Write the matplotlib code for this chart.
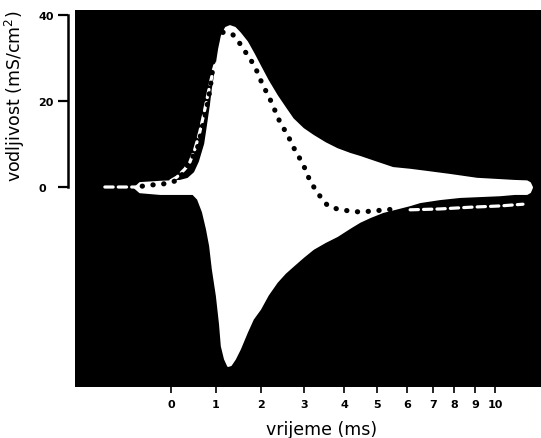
import numpy as np
import matplotlib
matplotlib.use("Agg")
import matplotlib.pyplot as plt

# ---- data (time in ms, conductance in mS/cm^2) ----
upper_t = [-0.80, -0.69, -0.24, 0.20, 0.38, 0.53, 0.64, 0.76, 0.82, 0.89, 0.93, 1.00, 1.07, 1.13,
           1.22, 1.31, 1.42, 1.53, 1.69, 1.84, 1.98, 2.16, 2.37, 2.56, 2.74, 2.98, 3.23, 3.53,
           3.83, 4.18, 4.48, 4.94, 5.53, 6.12, 6.77, 7.81, 9.10, 10.25, 11.00, 11.60, 11.75, 11.85]
upper_g = [-0.2, 0.9, 1.2, 1.4, 1.9, 3.3, 5.8, 10.0, 14.2, 19.3, 22.8, 27.4, 32.1, 35.1,
           37.0, 37.4, 37.0, 35.8, 33.7, 30.9, 28.1, 24.7, 21.2, 18.4, 15.8, 13.5, 11.9, 10.2,
           8.8, 7.7, 7.0, 5.8, 4.4, 4.0, 3.5, 2.8, 1.9, 1.6, 1.4, 1.3, 0.9, -0.1]

lower_t = [-0.80, -0.69, -0.24, 0.20, 0.49, 0.60, 0.71, 0.80, 0.87, 0.93, 1.02, 1.09, 1.13, 1.20,
           1.27, 1.33, 1.42, 1.53, 1.69, 1.82, 1.98, 2.16, 2.37, 2.56, 2.74, 2.98, 3.23, 3.53,
           3.83, 4.18, 4.48, 4.79, 5.20, 5.60, 6.12, 6.50, 7.33, 8.29, 9.25, 10.25, 11.00, 11.60,
           11.75, 11.85]
lower_g = [-0.2, -1.2, -1.6, -1.6, -1.6, -2.8, -5.8, -9.8, -13.7, -19.1, -25.3, -31.9, -37.0, -40.0,
           -41.6, -41.4, -40.0, -37.7, -33.7, -30.7, -28.4, -25.1, -22.1, -20.0, -18.4, -16.3, -14.4,
           -12.8, -11.4, -9.5, -8.1, -7.0, -5.8, -5.1, -4.2, -3.5, -2.8, -2.3, -2.1, -1.9, -1.6, -1.6,
           -1.2, -0.1]

dotted_t = [-0.64, -0.40, -0.18, 0.04, 0.20, 0.27, 0.36, 0.42, 0.58, 0.69, 0.78, 0.87, 0.93, 0.94,
            0.98, 1.04, 1.16, 1.36, 1.49, 1.64, 1.76, 1.89, 1.98, 2.09, 2.23, 2.44, 2.63, 2.74,
            2.91, 3.03, 3.15, 3.28, 3.45, 3.60, 3.83, 4.18, 4.48, 4.85, 5.27, 5.67]
dotted_g = [0.2, 0.5, 0.7, 1.2, 1.9, 3.5, 4.9, 6.0, 8.8, 13.5, 17.7, 22.8, 28.1, 30.5,
            32.8, 34.9, 36.0, 35.6, 34.0, 31.6, 29.8, 27.4, 25.1, 22.8, 20.0, 15.1, 11.9, 9.5,
            6.5, 4.2, 1.4, -0.5, -2.8, -4.4, -5.1, -5.6, -5.8, -5.6, -5.3, -5.1]

dash_rise_t = [-1.47, -1.13, -0.80, -0.47, -0.13, 0.13, 0.31, 0.42, 0.53, 0.64, 0.73, 0.80, 0.87,
               0.93, 1.00]
dash_rise_g = [0.0, 0.0, 0.0, 0.1, 0.7, 2.3, 4.2, 5.8, 8.8, 12.8, 17.0, 20.5, 24.0, 26.7, 29.3]

dash_tail_t = [6.12, 7.33, 8.76, 10.25, 11.40]
dash_tail_g = [-5.3, -5.1, -4.7, -4.4, -4.0]

x_ticks = [0, 1, 2, 3, 4, 5, 6, 7, 8, 9, 10]
y_ticks = [0, 20, 40]

# ---- non-linear time axis (scale definition) ----
scale_t = [-3, 0, 1, 2, 3, 4, 5, 6, 7, 8, 9, 10, 13]
scale_u = [36, 171, 216, 261, 304, 344, 377, 407, 433, 454, 475, 495, 555]


def fwd(t):
    return np.interp(t, scale_t, scale_u)


def inv(u):
    return np.interp(u, scale_u, scale_t)


W, H = 541, 439
fig = plt.figure(figsize=(W / 100, H / 100), dpi=100)
ax = fig.add_axes([75 / W, (H - 388) / H, (W - 75) / W, (388 - 11) / H])
ax.set_facecolor("black")
ax.set_xscale("function", functions=(fwd, inv))
ax.set_xlim(inv(75), inv(541))
ax.set_ylim(-46.5, 41.16)

# white conductance envelope
ax.fill(np.concatenate([upper_t, lower_t[::-1]]), np.concatenate([upper_g, lower_g[::-1]]),
        facecolor="white", edgecolor="white", linewidth=1.5, joinstyle="round", zorder=1)

# dashed white curves
for tt, gg in [(dash_rise_t, dash_rise_g), (dash_tail_t, dash_tail_g)]:
    ax.plot(tt, gg, color="white", linewidth=2.3, dashes=(2.6, 1.6), dash_capstyle="round", zorder=2)

# dotted black curve
ax.plot(dotted_t, dotted_g, color="black", linewidth=3.7, dashes=(0.05, 2.05),
        dash_capstyle="round", zorder=3)

for s in ["top", "right", "bottom"]:
    ax.spines[s].set_visible(False)
ax.spines["left"].set_position(("outward", 5))
ax.spines["left"].set_bounds(0, 40)
ax.spines["left"].set_linewidth(1.8)

ax.set_yticks(y_ticks)
ax.set_yticklabels([str(v) for v in y_ticks], fontsize=8, fontweight="bold", ha="left")
ax.tick_params(axis="y", direction="out", length=7, width=1.6, pad=14.5)

ax.set_xticks(x_ticks)
ax.set_xticks([], minor=True)
ax.set_xticklabels([str(v) for v in x_ticks], fontsize=8, fontweight="bold")
ax.tick_params(axis="x", direction="out", length=4, width=1.2, pad=5)

ax.set_xlabel("vrijeme (ms)", fontsize=12.5)
ax.xaxis.set_label_coords(0.530, -0.088)
ax.set_ylabel("vodljivost (mS/cm$^2$)", fontsize=12.5)
ax.yaxis.set_label_coords(-0.103, 0.775)

fig.savefig("out.png", dpi=100, facecolor="white")
